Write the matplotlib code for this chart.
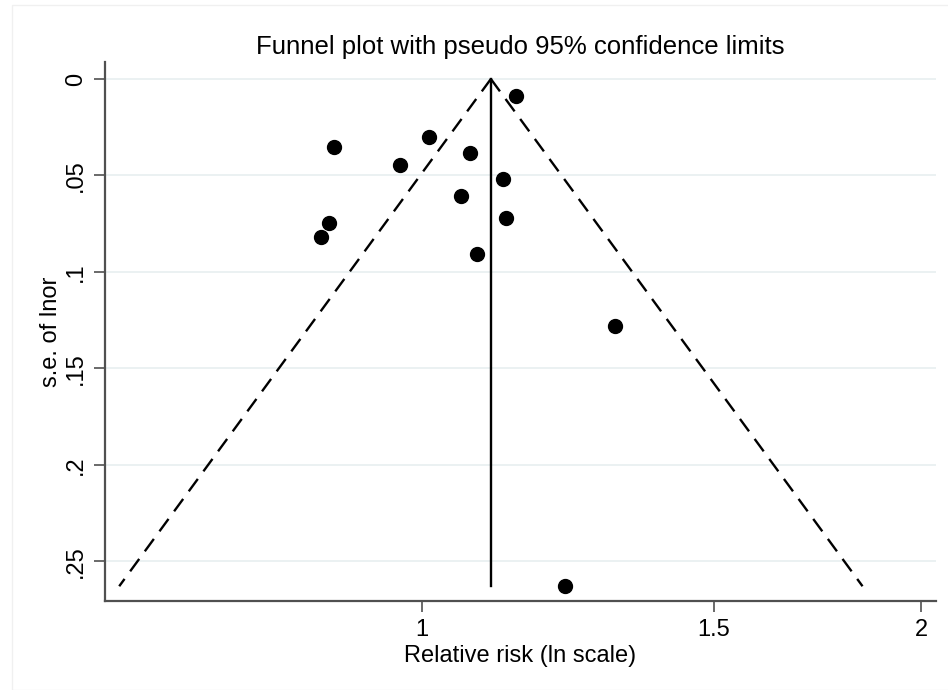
import numpy as np
import matplotlib.pyplot as plt
from matplotlib.ticker import FixedLocator, FixedFormatter, NullLocator

plt.rcParams['font.family'] = ['Liberation Sans', 'DejaVu Sans']

# study estimates
rr = [1.140, 0.886, 1.010, 0.970, 1.069, 1.119, 1.057, 1.125, 0.880, 0.870, 1.080, 1.308, 1.221]
se = [0.0088, 0.0354, 0.0302, 0.0446, 0.0382, 0.0520, 0.0607, 0.0722, 0.0748, 0.0818, 0.0908, 0.1281, 0.2630]
pooled_rr = 1.101
se_max = 0.2630

x_ticks = [1, 1.5, 2]
x_ticklabels = ["1", "1.5", "2"]
y_ticks = [0, 0.05, 0.1, 0.15, 0.2, 0.25]
y_ticklabels = ["0", ".05", ".1", ".15", ".2", ".25"]

fig = plt.figure(figsize=(9.48, 6.9), dpi=100)
ax = fig.add_axes([105 / 948, 1 - 600.7 / 690, (936 - 105) / 948, (600.7 - 62) / 690])

# pseudo 95% limits
ln_c = np.log(pooled_rr)
se_line = np.array([0, se_max])
ax.plot(np.exp(ln_c - 1.96 * se_line), se_line, color="black", ls=(0, (6.5, 4)), lw=1.7)
ax.plot(np.exp(ln_c + 1.96 * se_line), se_line, color="black", ls=(0, (6.5, 4)), lw=1.7)
ax.plot([pooled_rr, pooled_rr], se_line, color="black", lw=1.7)

ax.scatter(rr, se, s=100, color="black", zorder=3)

ax.set_xscale("log")
ax.set_xlim(np.exp((105 - 421.5) / 721), np.exp((936 - 421.5) / 721))
ax.set_ylim(0.2705, -0.0088)

ax.xaxis.set_major_locator(FixedLocator(x_ticks))
ax.xaxis.set_major_formatter(FixedFormatter(x_ticklabels))
ax.xaxis.set_minor_locator(NullLocator())
ax.set_yticks(y_ticks)
ax.set_yticklabels(y_ticklabels, rotation=90, va="center")

ax.grid(axis="y", color="#e8eff0", lw=1.2)
ax.set_axisbelow(True)
for s in ["top", "right"]:
    ax.spines[s].set_visible(False)
for s in ["left", "bottom"]:
    ax.spines[s].set_color("#505050")
    ax.spines[s].set_linewidth(1.6)
ax.tick_params(axis="both", length=8, width=1.2, color="#505050", labelsize=17, pad=5)

ax.set_xlabel("Relative risk (ln scale)", fontsize=17, labelpad=3)
ax.set_ylabel("s.e. of lnor", fontsize=17, labelpad=2)
ax.set_title("Funnel plot with pseudo 95% confidence limits", fontsize=18.5, pad=6)

fig.patches.append(plt.Rectangle((12 / 948, 0), 1, 1 - 5 / 690, transform=fig.transFigure,
                                 fill=False, edgecolor="#f0f0f0", lw=1))

fig.savefig("out.png", dpi=100)
